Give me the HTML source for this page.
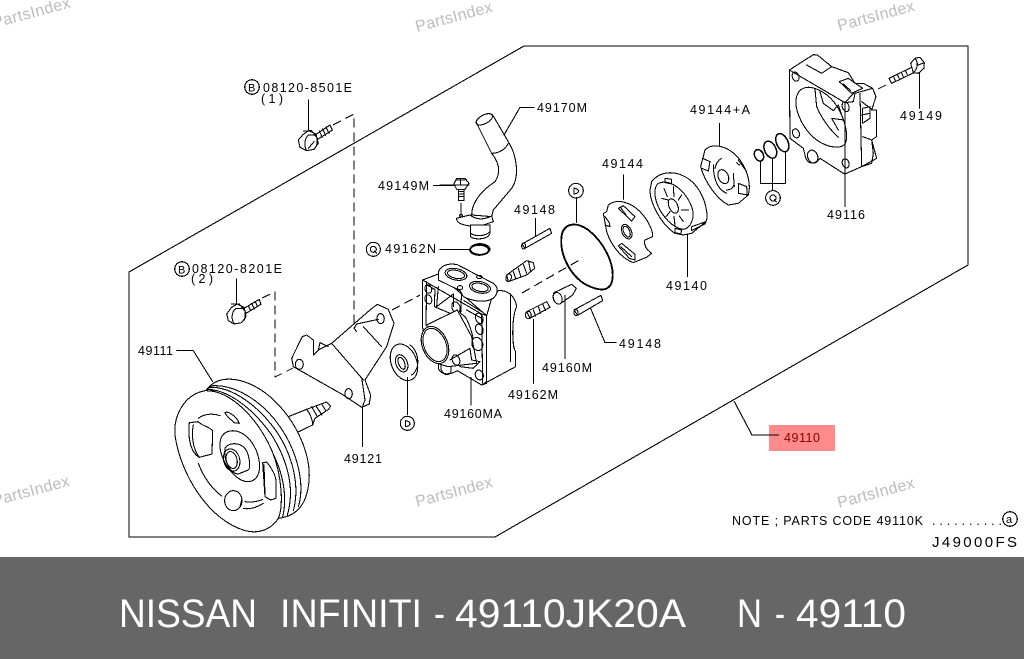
<!DOCTYPE html>
<html><head><meta charset="utf-8"><style>
html,body{margin:0;padding:0;background:#fff;width:1024px;height:659px;overflow:hidden}
svg{display:block}
path,ellipse,circle{shape-rendering:crispEdges}
.l{font:12.5px "Liberation Sans",sans-serif;fill:#000}
.w{font:16px "Liberation Sans",sans-serif;fill:#bcbcbc}
.f{font:40px "Liberation Sans",sans-serif;fill:#fff}
.p{fill:none;stroke:#000;stroke-width:3.2;stroke-linejoin:round;stroke-linecap:round}
.p .w1,.w1{fill:#fff}
.d{fill:none;stroke:#000;stroke-width:1.1;stroke-dasharray:9 5}
.n{fill:none;stroke:#000;stroke-width:1.1}
</style></head><body>
<svg width="1024" height="659" viewBox="0 0 1024 659" xmlns="http://www.w3.org/2000/svg">
<rect width="1024" height="659" fill="#fff"/>

<!-- highlight -->
<rect x="769" y="425" width="66" height="26" fill="#ff8a8a"/>

<!-- frame -->
<path class="n" d="M129,272 L524,46 L968,46 L968,265 L495,537 L129,537 Z"/>
<path class="n" d="M734,401 L752,435 L779,435"/>

<!-- dashed lines -->
<path class="d" d="M333,125 L354,114 L354,327"/>
<path class="d" d="M262,298 L275,292 L275,377 L293,368"/>
<path class="d" d="M392,310 L420,295"/>
<path class="d" d="M522,293 L583,258"/>
<path class="d" d="M878,89 L886,85"/>
<path class="n" d="M300,363 L383,317"/>

<!-- Bracket -->
<g class="p" transform="translate(130,300) scale(.3333)">
<path class="w1" d="M517,110 L485,175 L490,200 L640,285 L695,322 L718,312 L722,285 L705,240 L770,140 L792,70 L775,28 L742,13 L720,30 L605,130 L565,150 L550,165 L550,120 L530,105 Z"/>
<path d="M700,240 L605,130 M755,140 L700,80 M565,150 L570,128 L595,140 M530,105 L550,120"/>
<ellipse cx="508" cy="193" rx="12" ry="15"/>
<ellipse cx="656" cy="281" rx="11" ry="15"/>
<ellipse cx="752" cy="56" rx="11" ry="15"/>
<path d="M680,95 L672,85 L680,72 L745,58"/>
<path d="M695,232 L705,300 L697,322"/>
<!-- Seal -->
<ellipse class="w1" cx="822" cy="187" rx="38" ry="57" transform="rotate(-22 822 187)"/>
<path d="M840,135 C865,150 875,205 845,225"/>
<ellipse cx="815" cy="190" rx="17" ry="27" transform="rotate(-22 815 190)"/>
<ellipse cx="815" cy="190" rx="9" ry="19" transform="rotate(-22 815 190)"/>
<path d="M832,232 L832,345"/>
<circle cx="832" cy="370" r="21"/>
<path d="M826,362 L826,380 M826,362 C845,365 845,378 826,380"/>
<path d="M697,322 L697,440"/>
</g>

<!-- Pulley -->
<g class="p" transform="translate(130,300) scale(.3333)">
<!-- shaft -->
<path class="w1" d="M475,350 L530,328 L590,306 L602,318 L596,328 L555,355 L548,375 L500,398 Z"/>
<path d="M530,328 C540,340 548,360 548,375 M545,320 L562,350 M558,318 L576,345 M575,312 L588,333"/>
<!-- belt -->
<path class="w1" d="M228,272 C262,218 350,230 420,290 C500,360 550,470 535,560 C525,625 490,650 445,655 Z"/>
<path d="M240,258 C310,250 395,300 450,380 C505,460 525,555 505,620 M235,262 C300,258 380,310 440,395 C490,470 510,560 490,632 M230,268 C290,268 365,320 425,405 C475,485 495,570 472,645 M232,266 C280,280 350,330 405,420 C455,495 475,580 458,652"/>
<!-- face -->
<path class="w1" d="M225,272 C160,285 130,350 135,405 C150,520 235,660 345,692 C395,705 430,680 445,655 C460,620 458,530 425,450 C385,360 305,270 225,272 Z"/>
<!-- windows -->
<path d="M178,368 L205,365 C215,378 235,378 248,392 L246,462 L208,472 C185,460 172,420 178,368 Z"/>
<path d="M190,375 C183,410 190,445 205,468"/>
<path d="M205,355 C225,340 250,340 270,347 M285,338 C295,332 320,350 328,370 L312,368 C300,355 290,350 285,338 Z"/>
<path d="M275,410 C290,385 330,385 360,420 C395,465 400,530 365,543 C330,555 285,505 272,455 C268,435 270,420 275,410 Z"/>
<path d="M285,445 C295,428 325,425 345,445 C360,465 362,505 355,510 L325,522 C300,520 280,480 285,445 Z"/>
<ellipse cx="305" cy="480" rx="24" ry="34" transform="rotate(-15 305 480)"/>
<ellipse cx="305" cy="480" rx="16" ry="26" transform="rotate(-15 305 480)"/>
<path d="M398,488 L410,486 C425,505 438,525 438,545 L438,595 L422,600 L405,590 Z M402,495 L405,585"/>
<path d="M205,490 C220,530 245,565 275,588"/>
<ellipse cx="310" cy="602" rx="26" ry="30"/>
<path d="M335,600 L330,620 M345,605 C360,608 385,605 398,598 M340,625 C360,630 385,620 400,610"/>
<path d="M140,152 L190,152 L248,245"/>
</g>

<!-- Bolts left -->
<g class="p" transform="translate(130,60) scale(.3333)">
<path d="M535,120 L535,212"/>
<path class="w1" d="M555,225 L600,195 L607,210 L560,240 Z"/>
<path d="M568,213 L577,232 M578,207 L587,226 M588,201 L597,220"/>
<path class="w1" d="M518,225 L535,212 L558,222 L565,250 L552,268 L530,272 L510,262 L505,240 Z"/>
<path d="M520,213 L545,212 L562,235 L560,258 M530,272 C520,255 525,235 535,225 L555,225 M535,265 L552,245"/>
<path d="M320,657 L320,732"/>
<path class="w1" d="M342,745 L388,718 L393,733 L348,760 Z"/>
<path d="M355,737 L362,752 M365,730 L373,747 M375,724 L383,740"/>
<path class="w1" d="M305,742 L322,732 L342,742 L348,770 L335,788 L312,792 L295,782 L290,762 Z"/>
<path d="M305,732 L328,732 L346,755 L344,780 M312,790 C302,775 306,755 318,745 L340,745"/>
</g>

<!-- Pump body -->
<g class="p" transform="translate(370,170) scale(.3333)">
<!-- right side -->
<path class="w1" d="M350,437 L350,640 L335,645 L437,590 L437,545 C425,530 425,440 440,410 C435,375 410,360 385,362 L365,385 Z"/>
<path d="M422,372 L422,575 M350,437 L365,385"/>
<!-- plate -->
<path class="w1" d="M158,330 L205,312 L350,437 L350,635 L335,645 L262,602 C245,612 215,620 205,595 L205,572 L165,530 L157,465 Z"/>
<path d="M158,330 L335,432 L350,437 M170,335 L168,465 M335,432 L338,640 M170,345 L195,358 L193,410 L240,430 M205,350 L200,410 L250,372 L250,410 M275,360 L272,430 L285,440 C300,460 305,490 310,505 M282,392 L335,425 M290,420 L335,445"/>
<ellipse cx="175" cy="357" rx="10" ry="13" transform="rotate(-20 175 357)"/>
<ellipse cx="175" cy="388" rx="10" ry="14" transform="rotate(-20 175 388)"/>
<ellipse cx="258" cy="412" rx="12" ry="17" transform="rotate(-20 258 412)"/>
<ellipse cx="328" cy="445" rx="11" ry="16" transform="rotate(-20 328 445)"/>
<ellipse cx="328" cy="478" rx="11" ry="16" transform="rotate(-20 328 478)"/>
<ellipse cx="322" cy="522" rx="16" ry="20" transform="rotate(-20 322 522)"/>
<ellipse cx="328" cy="615" rx="12" ry="15" transform="rotate(-20 328 615)"/>
<ellipse cx="228" cy="595" rx="15" ry="19" transform="rotate(-20 228 595)"/>
<ellipse cx="258" cy="570" rx="11" ry="16" transform="rotate(-20 258 570)"/>
<!-- cylinder -->
<path class="w1" d="M170,465 L262,420 L305,500 L320,580 L235,590 L200,580 Z"/>
<ellipse cx="328" cy="478" rx="11" ry="16" transform="rotate(-20 328 478)"/>
<ellipse cx="322" cy="522" rx="16" ry="20" transform="rotate(-20 322 522)"/>
<path d="M240,570 L300,535 L305,570 L330,575 L310,595 L270,590"/>
<ellipse cx="258" cy="570" rx="11" ry="16" transform="rotate(-20 258 570)"/>
<ellipse class="w1" cx="195" cy="525" rx="38" ry="58" transform="rotate(-22 195 525)"/>
<ellipse cx="195" cy="525" rx="33" ry="52" transform="rotate(-22 195 525)"/>
<!-- top boss -->
<path class="w1" d="M205,312 C205,290 230,278 262,284 L370,340 C388,352 385,380 360,390 C335,398 305,392 280,380 L270,362 L205,330 Z"/>
<ellipse cx="258" cy="313" rx="33" ry="17" transform="rotate(12 258 313)"/>
<ellipse cx="258" cy="313" rx="26" ry="12" transform="rotate(12 258 313)"/>
<ellipse cx="330" cy="352" rx="32" ry="17" transform="rotate(12 330 352)"/>
<ellipse cx="330" cy="352" rx="25" ry="12" transform="rotate(12 330 352)"/>
<ellipse cx="328" cy="321" rx="8" ry="5"/>
<ellipse cx="270" cy="353" rx="8" ry="6"/>
<path d="M303,622 L303,705"/>

<!-- springs / dowels -->
<path class="w1" d="M410,315 L470,272 L490,278 L494,295 L470,315 L415,335 Z"/>
<ellipse cx="416" cy="323" rx="8" ry="12" transform="rotate(15 416 323)"/>
<path d="M430,305 L437,325 M445,295 L452,318 M460,283 L470,310 M476,275 L482,305"/>
<path class="w1" d="M470,425 L530,395 L540,412 L480,445 Z"/>
<ellipse cx="475" cy="435" rx="9" ry="11"/>
<path d="M490,420 L497,438 M505,410 L512,430 M518,402 L527,422"/>
<path d="M490,448 L490,640"/>
<path class="w1" d="M552,368 L605,343 L619,355 L608,375 L570,402 C555,405 545,385 552,368 Z"/>
<ellipse cx="563" cy="385" rx="13" ry="18" transform="rotate(-20 563 385)"/>
<path d="M585,377 L585,565"/>
<path class="w1" d="M612,420 L693,376 L698,392 L623,436 Z"/>
<ellipse cx="618" cy="428" rx="6" ry="9"/>
<path d="M662,415 L705,518 L738,518"/>
<path class="w1" d="M456,222 L540,175 L545,190 L465,235 Z"/>
<ellipse cx="461" cy="228" rx="6" ry="9"/>
<path d="M496,145 L496,197"/>
<!-- O-rings -->
<ellipse cx="330" cy="238" rx="29" ry="16" fill="none" stroke-width="5"/>
<path d="M210,238 L300,238"/>
<path d="M190,46 L255,46"/>
<!-- big O-ring -->
<path stroke-width="5.5" d="M578,185 C590,160 620,155 655,180 C700,215 735,280 727,330 C720,365 690,365 650,345 C600,320 560,240 578,185 Z"/>
<path d="M620,82 L620,158"/>
<circle cx="618" cy="62" r="22"/>
<path d="M612,54 L612,72 M612,54 C630,58 630,70 612,72"/>
<circle cx="112" cy="760" r="21"/>
<path d="M106,752 L106,770 M106,752 C124,755 124,768 106,770"/>
<circle cx="10" cy="238" r="21"/>
<circle cx="10" cy="238" r="9"/>
<path d="M14,243 L20,250"/>
</g>

<!-- Pipe -->
<g class="p" transform="translate(440,90) scale(.3333)">
<path class="w1" d="M108,95 C120,75 145,65 158,75 L205,155 C230,195 240,260 215,295 L160,360 L155,380 L95,375 C95,340 120,305 165,275 C185,245 175,215 155,190 L115,110 Z"/>
<ellipse cx="133" cy="88" rx="27" ry="13" transform="rotate(-28 133 88)"/>
<path d="M155,190 C175,190 195,180 205,160"/>
<path d="M192,135 L240,52 L282,52"/>
<path class="w1" d="M50,385 L90,375 C110,390 130,390 155,378 L160,395 L130,405 L90,408 C70,405 48,400 50,385 Z"/>
<path class="w1" d="M92,405 L150,405 L150,430 C145,450 100,450 92,440 Z"/>
<path d="M92,430 C105,440 135,440 150,425"/>
<ellipse cx="118" cy="480" rx="28" ry="15" fill="none" stroke-width="5"/>
<!-- bolt -->
<path class="w1" d="M50,265 L75,265 L87,280 L75,298 L50,298 L42,282 Z"/>
<path d="M50,270 L75,270 M62,265 L62,285 M42,285 L87,285"/>
<path class="w1" d="M55,298 L72,298 L72,332 L55,332 Z"/>
<path d="M55,305 L72,305 M55,312 L72,312 M55,320 L72,320"/>
<path d="M63,340 L63,375"/>
<ellipse cx="63" cy="377" rx="4" ry="4"/>
<path d="M0,285 L42,285"/>
</g>

<!-- Right parts -->
<g class="p" transform="translate(590,40) scale(.3333)">
<!-- 49144 plate -->
<path class="w1" d="M55,495 C80,475 120,485 150,515 C175,540 190,575 188,590 L165,600 C160,615 170,630 185,640 L170,652 L130,668 C95,655 65,620 50,575 L40,520 L50,515 Z"/>
<ellipse cx="110" cy="575" rx="14" ry="23" transform="rotate(-25 110 575)"/>
<ellipse cx="110" cy="575" rx="9" ry="17" transform="rotate(-25 110 575)"/>
<path d="M85,505 L100,497 L135,530 L125,543 Z M92,503 L108,525"/>
<path d="M85,618 L95,610 L135,643 L135,660 L118,655 Z M92,620 L125,650"/>
<path d="M45,530 L58,548 L60,560 L45,555"/>
<path d="M100,405 L100,478"/>
<!-- 49140 -->
<path class="w1" d="M185,425 C215,385 280,390 320,440 C350,480 355,530 348,545 L305,580 L280,585 L255,580 C215,555 180,490 180,450 Z"/>
<path d="M205,430 C240,415 285,450 305,500 C318,535 300,565 280,568 C240,565 190,500 195,450 C197,440 200,433 205,430 Z"/>
<ellipse cx="250" cy="498" rx="13" ry="23" transform="rotate(-25 250 498)"/>
<path d="M225,415 L245,418 L245,432 L225,428 Z M255,565 L275,570 L272,582 L255,578 Z M305,572 L345,552 L348,545 L305,560 Z"/>
<path d="M215,475 L235,480 M222,445 L232,470 M250,440 L252,470 M275,465 L265,480 M295,510 L275,510 M280,545 L268,528 M255,555 L252,530 M228,530 L240,515"/>
<path d="M292,585 L292,710"/>
<!-- 49144+A -->
<path class="w1" d="M345,330 C370,305 420,320 450,360 C478,400 482,440 475,465 L445,490 L415,495 C385,480 345,430 332,380 Z"/>
<ellipse cx="400" cy="410" rx="15" ry="22" transform="rotate(-25 400 410)"/>
<path d="M370,375 C370,420 385,450 410,460 M375,385 C378,370 385,360 395,355 M430,400 L433,440 M410,450 C420,450 428,445 432,435"/>
<path d="M338,355 L360,365 L355,393 L335,385 M445,430 L470,440 L472,465 L445,460 Z M440,368 L448,375 M445,360 L470,395"/>
<path d="M388,250 L388,315"/>
<!-- rings -->
<ellipse cx="507" cy="346" rx="13" ry="18" transform="rotate(-25 507 346)" stroke-width="4.5"/>
<ellipse cx="541" cy="329" rx="17" ry="27" transform="rotate(-25 541 329)" stroke-width="4.5"/>
<ellipse cx="577" cy="308" rx="17" ry="29" transform="rotate(-25 577 308)" stroke-width="4.5"/>
<path d="M511,365 L511,430 L586,430 L586,337 M548,357 L548,452"/>
<circle cx="549" cy="474" r="22"/>
<circle cx="549" cy="474" r="9"/>
<path d="M553,479 L559,486"/>
<path d="M765,398 L765,500"/>
</g>
<!-- 49116 housing -->
<g class="p" transform="translate(780,50) scale(.3333)">
<path class="w1" d="M28,60 L100,14 L112,15 L155,50 L205,68 L225,100 L250,100 L278,115 L288,140 L275,180 L290,180 L290,260 L275,270 L290,325 L245,350 L195,372 L190,370 L120,325 C105,345 80,345 75,315 L70,295 L30,265 Z"/>
<path d="M28,60 L195,158 L225,125 M195,158 L195,370 M225,130 L278,115 M225,130 L220,155 L195,158 M80,45 L125,70 L155,50 M178,95 L205,85 L248,115 L215,130 Z M190,102 L212,122 M240,130 L245,350 M245,155 L278,180 M248,175 L270,170 L270,205 L248,220 Z M245,195 L270,190 M248,260 L275,270 L280,310 L275,340 L245,350"/>
<path d="M70,115 C90,105 135,120 165,160 C190,195 205,245 198,275 C190,300 145,295 110,270 C70,240 45,185 48,150 C50,130 58,120 70,115 Z"/>
<path d="M105,118 L110,170 C125,205 150,240 175,262 M120,125 L130,160 L160,182 L175,165 L190,210 L155,205 L175,240"/>
<ellipse cx="47" cy="80" rx="10" ry="14" transform="rotate(-20 47 80)"/>
<ellipse cx="197" cy="170" rx="10" ry="15" transform="rotate(-20 197 170)"/>
<ellipse cx="48" cy="250" rx="10" ry="14" transform="rotate(-20 48 250)"/>
<ellipse cx="197" cy="340" rx="10" ry="14" transform="rotate(-20 197 340)"/>
<ellipse cx="98" cy="320" rx="15" ry="20" transform="rotate(-20 98 320)"/>
</g>
<!-- bolt 49149 -->
<g class="p" transform="translate(590,40) scale(.3333)">
<path class="w1" d="M897,115 L965,82 L972,98 L905,130 Z"/>
<path d="M910,108 L917,124 M922,103 L929,118 M934,97 L941,112 M946,91 L953,106"/>
<path class="w1" d="M962,70 L975,55 L990,52 L1003,68 L1002,85 L985,100 L970,98 Z"/>
<path d="M975,55 C985,65 985,85 970,98 M985,75 L1003,68"/>
<path d="M988,100 L988,205"/>
</g>

<!-- labels -->
<circle class="n" cx="252" cy="87" r="7.3"/>
<text class="l" x="248" y="91.5" style="font-size:11px">B</text>
<text class="l" x="263" y="92" textLength="89" lengthAdjust="spacing">08120-8501E</text>
<text class="l" x="261" y="103" textLength="22" lengthAdjust="spacing">( 1 )</text>
<circle class="n" cx="182" cy="269" r="7.3"/>
<text class="l" x="178" y="273.5" style="font-size:11px">B</text>
<text class="l" x="192" y="273" textLength="90" lengthAdjust="spacing">08120-8201E</text>
<text class="l" x="191" y="283" textLength="22" lengthAdjust="spacing">( 2 )</text>
<text class="l" x="138" y="355" textLength="35" lengthAdjust="spacing">49111</text>
<text class="l" x="537" y="112" textLength="50" lengthAdjust="spacing">49170M</text>
<text class="l" x="378" y="190" textLength="51" lengthAdjust="spacing">49149M</text>
<text class="l" x="385" y="253" textLength="51" lengthAdjust="spacing">49162N</text>
<text class="l" x="514" y="214" textLength="41" lengthAdjust="spacing">49148</text>
<text class="l" x="619" y="348" textLength="42" lengthAdjust="spacing">49148</text>
<text class="l" x="542" y="372" textLength="50" lengthAdjust="spacing">49160M</text>
<text class="l" x="508" y="399" textLength="50" lengthAdjust="spacing">49162M</text>
<text class="l" x="444" y="418" textLength="58" lengthAdjust="spacing">49160MA</text>
<text class="l" x="344" y="463" textLength="38" lengthAdjust="spacing">49121</text>
<text class="l" x="602" y="168" textLength="41" lengthAdjust="spacing">49144</text>
<text class="l" x="690" y="114" textLength="60" lengthAdjust="spacing">49144+A</text>
<text class="l" x="666" y="290" textLength="41" lengthAdjust="spacing">49140</text>
<text class="l" x="827" y="219" textLength="38" lengthAdjust="spacing">49116</text>
<text class="l" x="900" y="120" textLength="42" lengthAdjust="spacing">49149</text>
<text class="l" x="784" y="442" textLength="36" lengthAdjust="spacing" style="fill:#8a0000">49110</text>
<text class="l" x="732" y="525" textLength="191" lengthAdjust="spacing">NOTE ; PARTS CODE 49110K</text>
<text class="l" x="932" y="525" textLength="70" lengthAdjust="spacing">..........</text>
<circle class="n" cx="1010" cy="519" r="7.3"/>
<text class="l" x="1006" y="523" style="font-size:11px">a</text>
<text class="l" x="932" y="547" textLength="85" lengthAdjust="spacing" style="font-size:15px">J49000FS</text>

<!-- watermarks -->
<g class="w">
<text transform="translate(-6,28) rotate(-15)" textLength="80" lengthAdjust="spacing">PartsIndex</text>
<text transform="translate(417,32) rotate(-15)" textLength="79" lengthAdjust="spacing">PartsIndex</text>
<text transform="translate(839,31) rotate(-15)" textLength="79" lengthAdjust="spacing">PartsIndex</text>
<text transform="translate(-6,506) rotate(-15)" textLength="79" lengthAdjust="spacing">PartsIndex</text>
<text transform="translate(417,507) rotate(-15)" textLength="79" lengthAdjust="spacing">PartsIndex</text>
<text transform="translate(839,508) rotate(-15)" textLength="79" lengthAdjust="spacing">PartsIndex</text>
</g>

<!-- footer -->
<rect x="0" y="557" width="1024" height="102" fill="#666"/>
<g class="f">
<text x="119" y="627" textLength="138" lengthAdjust="spacingAndGlyphs">NISSAN</text>
<text x="280" y="627" textLength="142" lengthAdjust="spacingAndGlyphs">INFINITI</text>
<text x="434" y="627" textLength="11" lengthAdjust="spacingAndGlyphs">-</text>
<text x="455" y="627" textLength="231" lengthAdjust="spacingAndGlyphs">49110JK20A</text>
<text x="737" y="627" textLength="25" lengthAdjust="spacingAndGlyphs">N</text>
<text x="775" y="627" textLength="10" lengthAdjust="spacingAndGlyphs">-</text>
<text x="796" y="627" textLength="110" lengthAdjust="spacingAndGlyphs">49110</text>
</g>
</svg>
</body></html>
